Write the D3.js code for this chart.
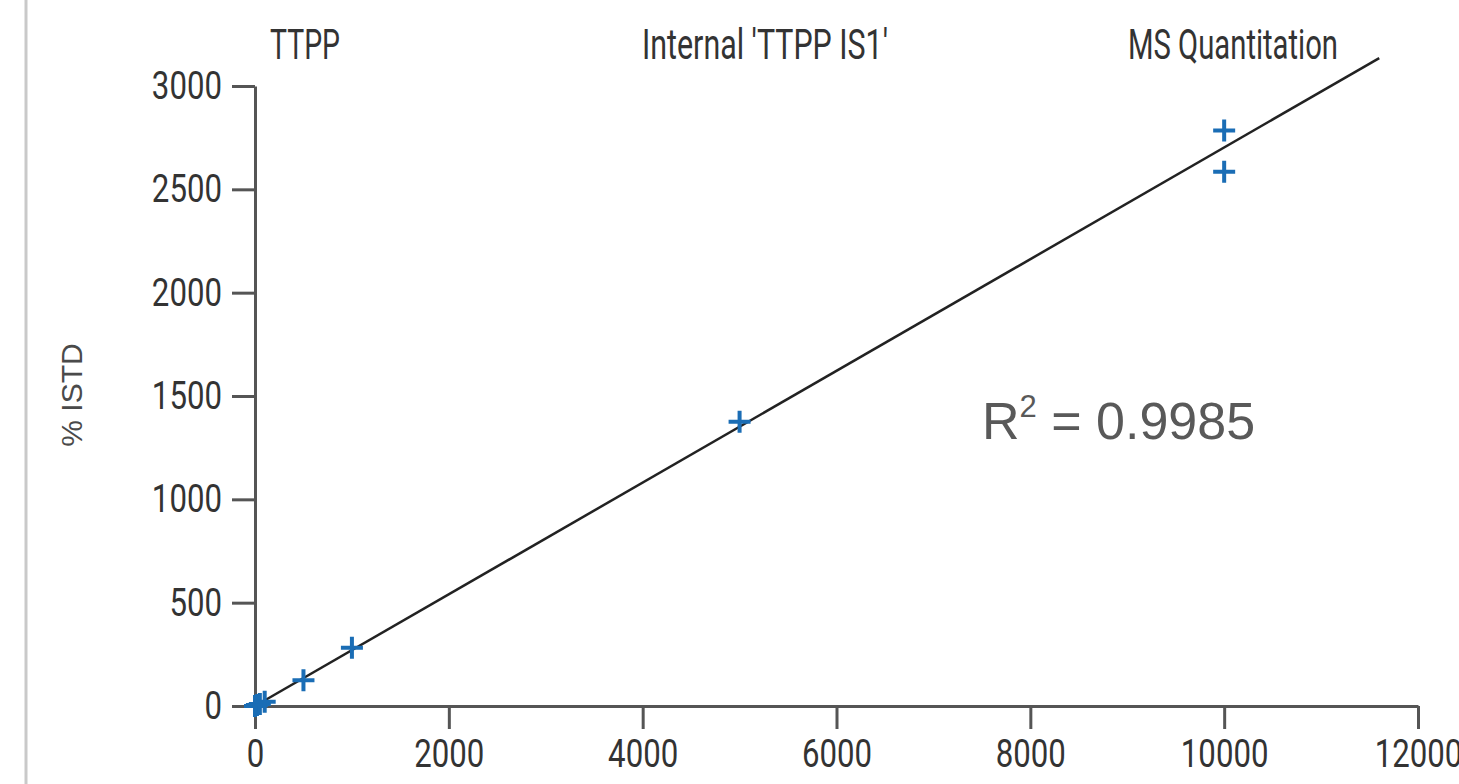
<!DOCTYPE html>
<html>
<head>
<meta charset="utf-8">
<script src="https://cdn.jsdelivr.net/npm/d3@7"></script>
<style>
  body { margin: 0; background: #fff; }
  svg { display: block; }
  .axis path, .axis line { stroke: #555; stroke-width: 3; }
  .axis text { font-family: Roboto, sans-serif; font-size: 39px; fill: #333; }
  .head { font-family: Roboto, sans-serif; font-size: 42px; fill: #333; }
</style>
</head>
<body>
<div id="chart"></div>
<script>
// concentration vs % ISTD
const concentration = [0, 20, 50, 100, 500, 1000, 5000, 10000, 10000];
const istdPercent = [0, 5, 10, 20, 125, 282, 1375, 2785, 2585];
const fitLine = [[0, 0], [11600, 3135]];
const xTicks = [0, 2000, 4000, 6000, 8000, 10000, 12000];
const yTicks = [0, 500, 1000, 1500, 2000, 2500, 3000];
const headings = ["TTPP", "Internal 'TTPP IS1'", "MS Quantitation"];

const width = 1459, height = 784;
const margin = { top: 86, right: 41, bottom: 78, left: 255 };

const svg = d3.select("#chart").append("svg")
  .attr("width", width)
  .attr("height", height);

// faint frame line on the left edge
svg.append("line")
  .attr("x1", 26).attr("x2", 26)
  .attr("y1", 0).attr("y2", height)
  .style("stroke", "#c9c9c9")
  .style("stroke-width", 3);

const x = d3.scaleLinear().domain([0, 12000]).range([margin.left, width - margin.right]);
const y = d3.scaleLinear().domain([0, 3000]).range([height - margin.bottom, margin.top]);

svg.append("g")
  .attr("class", "axis")
  .attr("transform", `translate(0,${y(0)})`)
  .call(d3.axisBottom(x).tickValues(xTicks).tickSize(23).tickSizeOuter(0).tickPadding(10).tickFormat(d3.format("d")));

svg.append("g")
  .attr("class", "axis")
  .attr("transform", `translate(${x(0)},0)`)
  .call(d3.axisLeft(y).tickValues(yTicks).tickSize(23).tickSizeOuter(0).tickPadding(10).tickFormat(d3.format("d")));

// the original uses a condensed face, so squeeze the glyphs
svg.selectAll(".axis text")
  .attr("font-family", null).attr("font-size", null)
  .each(function () {
    this.setAttribute("textLength", this.getComputedTextLength() * 0.8);
    this.setAttribute("lengthAdjust", "spacingAndGlyphs");
  });

// headings across the top
const headX = [270, 642, 1128];
const headW = [70, 246, 210];
headings.forEach((h, i) => {
  svg.append("text")
    .attr("class", "head")
    .attr("x", headX[i])
    .attr("y", 59)
    .attr("textLength", headW[i])
    .attr("lengthAdjust", "spacingAndGlyphs")
    .text(h);
});

// y label
svg.append("text")
  .attr("transform", "translate(82,395) rotate(-90)")
  .attr("text-anchor", "middle")
  .style("font-family", "'Liberation Sans', Arial, sans-serif")
  .style("font-size", "30px")
  .style("fill", "#4a4a4a")
  .text("% ISTD");

// calibration fit
svg.append("path")
  .datum(fitLine)
  .attr("d", d3.line().x(d => x(d[0])).y(d => y(d[1])))
  .style("fill", "none")
  .style("stroke", "#222")
  .style("stroke-width", 2.5);

// points as plus markers
svg.append("g").selectAll("path")
  .data(concentration.map((c, i) => ({ c: c, v: istdPercent[i] })))
  .enter().append("path")
  .attr("transform", d => `translate(${x(d.c)},${y(d.v)})`)
  .attr("d", "M-11,0H11M0,-11V11")
  .style("fill", "none")
  .style("stroke", "#1a6db5")
  .style("stroke-width", 4);

// R squared annotation
const r2 = svg.append("text")
  .attr("x", 982)
  .attr("y", 439)
  .style("font-family", "'Liberation Sans', Arial, sans-serif")
  .style("font-size", "52px")
  .style("fill", "#595959");
r2.append("tspan").text("R");
r2.append("tspan").attr("dy", -22).style("font-size", "31px").text("2");
r2.append("tspan").attr("dy", 22).text(" = 0.9985");
</script>
</body>
</html>
